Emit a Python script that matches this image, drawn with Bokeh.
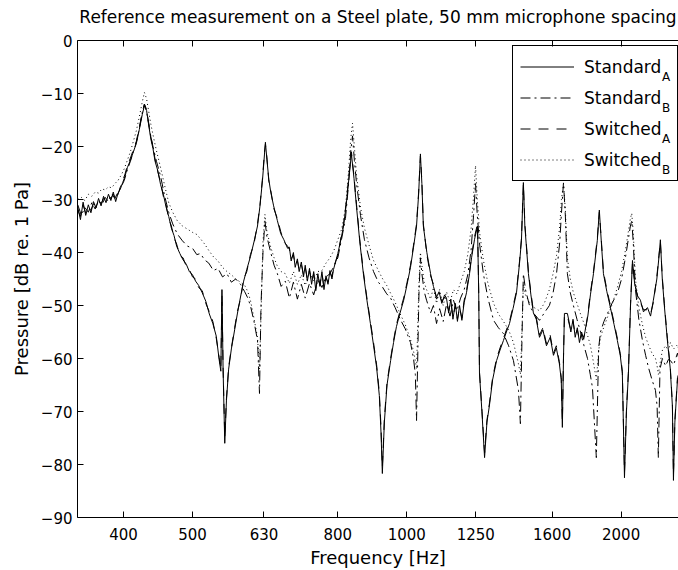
from bokeh.plotting import figure
from bokeh.models import Range1d, FixedTicker, LogAxis, Legend, LegendItem, Label
from bokeh.embed import file_html
from bokeh.resources import INLINE

TITLE = "Reference measurement on a Steel plate, 50 mm microphone spacing"
X_LABEL = "Frequency [Hz]"
Y_LABEL = "Pressure [dB re. 1 Pa]"
series_names = ["Standard", "Standard", "Switched", "Switched"]
series_subs = ["A", "B", "A", "B"]

x_ticks = [400, 500, 630, 800, 1000, 1250, 1600, 2000]
y_ticks = [0, -10, -20, -30, -40, -50, -60, -70, -80, -90]

# ---- A pair (Standard_A solid, Switched_A dashed) ----
freq_A = [
    345, 348, 351, 354, 357, 360, 363, 366, 369, 372,
    375, 378, 381, 384, 387, 390, 393, 396, 399, 402,
    405, 409, 413, 417, 421, 425, 428, 431, 434, 437,
    440, 443, 447, 451, 455, 459, 463, 467, 471, 475,
    480, 485, 490, 495, 500, 505, 510, 516, 522, 528,
    534, 540, 545, 548, 550, 552, 555, 558, 562, 567,
    573, 578, 584, 590, 596, 603, 610, 617, 622, 627,
    631, 633, 636, 640, 644, 650, 658, 665, 672, 680,
    684, 688, 693, 697, 702, 706, 711, 716, 720, 725, 730,
    735, 740, 745, 750, 755, 760, 765, 770, 775, 780, 785,
    789, 800, 808, 815, 822, 829, 836, 843, 850, 859,
    869, 879, 889, 898, 907, 915, 920, 924, 930, 938,
    949, 958, 967, 978, 990, 1001, 1012, 1022, 1032, 1039,
    1045, 1050, 1055, 1067, 1080, 1090, 1101, 1110, 1120, 1130,
    1137, 1145, 1153, 1161, 1170, 1178, 1186, 1195, 1204, 1213,
    1225, 1233, 1245, 1257, 1262, 1265, 1275, 1286, 1296, 1306,
    1320, 1337, 1352, 1367, 1380, 1394, 1410, 1426, 1440, 1449,
    1458, 1465, 1482, 1494, 1506, 1520, 1536, 1553, 1571, 1590,
    1607, 1622, 1638, 1648, 1654, 1660, 1665, 1681, 1690, 1700,
    1712, 1724, 1736, 1748, 1760, 1772, 1784, 1796, 1811, 1829,
    1852, 1864, 1876, 1889, 1910, 1932, 1955, 1976, 1995, 2008,
    2022, 2035, 2048, 2062, 2075, 2090, 2110, 2129, 2150, 2178,
    2200, 2220, 2245, 2260, 2271, 2285, 2300, 2323, 2345, 2361,
    2369, 2380, 2400, 2420,
]
standard_A = [
    -31.5, -33.8, -30.5, -33.0, -31.0, -32.5, -30.4, -31.6, -29.8, -31.2,
    -29.4, -30.6, -29.0, -30.2, -28.6, -30.4, -28.8, -28.0, -26.8, -25.6,
    -24.0, -22.6, -21.0, -19.4, -16.8, -14.0, -12.3, -13.2, -16.0, -18.6,
    -20.4, -22.8, -24.6, -27.2, -29.0, -31.4, -33.2, -35.4, -36.8, -38.8,
    -40.2, -41.4, -42.2, -43.6, -44.2, -45.4, -46.2, -47.6, -49.2, -51.6,
    -53.4, -55.8, -60.2, -62.4, -47.0, -62.0, -76.0, -68.0, -62.0, -58.2,
    -54.6, -51.6, -48.4, -45.4, -43.2, -40.8, -38.0, -35.0, -31.2, -26.4,
    -21.6, -19.2, -22.4, -26.2, -28.6, -31.2, -34.0, -36.4, -37.6, -39.2,
    -39.0, -41.6, -40.0, -42.8, -41.2, -43.6, -41.8, -44.6, -42.4, -45.4, -43.0,
    -46.0, -43.6, -47.2, -44.0, -46.4, -43.6, -47.0, -44.4, -46.0, -43.4, -45.0,
    -43.2, -40.2, -37.6, -35.0, -31.0, -26.2, -21.4, -26.0, -31.5, -38.0,
    -44.0, -49.0, -53.4, -57.5, -61.7, -67.0, -74.0, -81.7, -72.0, -65.0,
    -60.4, -57.0, -54.0, -51.5, -49.0, -46.0, -42.8, -39.0, -35.0, -29.0,
    -21.4, -27.0, -35.0, -40.0, -44.0, -46.4, -48.4, -47.4, -49.6, -48.0,
    -48.6, -51.4, -48.8, -52.6, -49.6, -53.0, -50.0, -52.8, -49.4, -47.6,
    -44.0, -41.0, -37.5, -35.0, -48.0, -62.8, -70.0, -78.7, -72.0, -69.0,
    -64.0, -60.4, -58.4, -56.6, -55.0, -53.4, -50.6, -47.6, -42.0, -37.7,
    -26.8, -35.0, -44.0, -48.0, -51.4, -52.6, -56.0, -54.6, -57.6, -56.0,
    -59.4, -58.0, -61.0, -64.0, -73.0, -60.0, -51.5, -51.5, -53.0, -55.0,
    -52.6, -56.0, -54.2, -57.0, -55.0, -56.4, -54.0, -52.0, -48.0, -44.0,
    -37.7, -32.0, -38.0, -44.0, -47.4, -50.4, -53.6, -56.6, -59.5, -62.8,
    -82.5, -70.0, -62.8, -50.0, -41.5, -46.0, -48.2, -49.0, -51.2, -50.4,
    -52.0, -49.0, -45.0, -41.0, -37.6, -45.0, -50.0, -56.6, -62.0, -69.0,
    -83.0, -72.0, -64.0, -62.6,
]
switched_A = [
    -32.0, -33.2, -31.0, -32.6, -31.6, -32.0, -30.8, -31.2, -30.2, -30.8,
    -29.8, -30.2, -29.4, -29.8, -29.0, -30.0, -29.0, -27.6, -26.4, -25.2,
    -23.6, -22.2, -20.6, -19.0, -16.4, -13.6, -12.0, -13.0, -15.6, -18.2,
    -20.0, -22.4, -24.8, -26.8, -29.4, -31.0, -33.6, -35.0, -37.2, -38.4,
    -40.6, -41.0, -42.6, -43.2, -44.6, -45.0, -46.6, -47.2, -49.6, -51.2,
    -53.0, -56.2, -59.8, -62.0, -48.0, -61.6, -75.0, -67.6, -61.6, -58.0,
    -54.2, -51.2, -48.8, -45.0, -43.6, -40.4, -38.4, -34.6, -31.0, -26.0,
    -21.2, -19.6, -22.0, -26.6, -28.2, -31.6, -33.6, -36.0, -38.0, -38.8,
    -39.4, -41.2, -40.4, -42.4, -41.6, -43.2, -42.2, -44.2, -42.8, -45.0, -43.4,
    -45.6, -44.0, -46.8, -44.4, -46.0, -44.0, -46.6, -44.8, -45.6, -43.8, -44.6,
    -42.8, -40.6, -37.2, -34.6, -30.6, -25.8, -21.0, -25.6, -31.0, -37.6,
    -43.6, -48.6, -53.0, -57.0, -61.2, -66.4, -73.0, -80.5, -71.4, -64.6,
    -60.0, -56.6, -53.6, -51.1, -48.6, -45.6, -42.4, -38.6, -34.6, -28.6,
    -21.8, -26.6, -34.6, -40.4, -44.4, -46.0, -48.8, -47.8, -49.2, -48.4,
    -49.0, -51.0, -49.2, -52.2, -50.0, -52.6, -50.4, -52.4, -49.0, -47.2,
    -43.6, -40.6, -37.0, -34.6, -47.6, -62.4, -69.6, -77.8, -71.6, -68.6,
    -63.6, -60.0, -58.0, -56.2, -54.6, -53.0, -50.2, -47.2, -41.6, -37.3,
    -27.0, -34.6, -43.6, -47.6, -51.0, -52.2, -55.6, -54.2, -57.2, -55.6,
    -59.0, -57.6, -60.6, -63.6, -72.0, -59.6, -51.9, -51.9, -53.4, -54.6,
    -53.0, -55.6, -54.6, -56.6, -55.4, -56.0, -54.4, -51.6, -47.6, -43.6,
    -37.3, -32.4, -37.6, -43.6, -47.0, -50.0, -53.2, -56.2, -59.1, -62.4,
    -81.5, -69.6, -62.4, -49.6, -41.9, -45.6, -48.6, -49.4, -50.8, -50.8,
    -51.6, -49.4, -44.6, -40.6, -38.0, -44.6, -49.6, -56.2, -61.6, -68.6,
    -82.0, -71.6, -63.6, -62.2,
]

# ---- B pair (Standard_B dash-dot, Switched_B dotted) ----
freq_B = [
    345, 349, 353, 357, 361, 365, 369, 373, 377, 381,
    385, 389, 393, 397, 401, 405, 409, 413, 417, 421,
    425, 428, 431, 434, 437, 441, 445, 451, 457, 463,
    469, 476, 484, 492, 500, 507, 513, 520, 527, 535,
    543, 551, 559, 567, 575, 584, 592, 598, 603, 610,
    617, 621, 624, 628, 632, 636, 644, 651, 658, 666,
    675, 684, 693, 702, 711, 720, 730, 740, 750, 760,
    770, 780, 790, 800, 810, 820, 828, 834, 839, 844,
    850, 861, 872, 885, 898, 912, 925, 937, 949, 963,
    979, 995, 1012, 1022, 1028, 1032, 1040, 1045, 1050, 1058,
    1066, 1080, 1090, 1101, 1112, 1125, 1137, 1150, 1163, 1176,
    1190, 1204, 1218, 1231, 1241, 1249, 1256, 1266, 1281, 1300,
    1324, 1345, 1367, 1390, 1412, 1435, 1444, 1452, 1458, 1468,
    1487, 1510, 1536, 1560, 1586, 1605, 1623, 1640, 1649, 1660,
    1670, 1681, 1697, 1714, 1734, 1754, 1774, 1794, 1810, 1823,
    1846, 1860, 1871, 1892, 1914, 1945, 1976, 2003, 2028, 2050,
    2061, 2070, 2080, 2095, 2118, 2143, 2165, 2185, 2210, 2235,
    2247, 2256, 2268, 2286, 2310, 2330, 2346, 2370, 2400, 2420,
]
standard_B = [
    -31.0, -33.0, -31.5, -32.4, -30.6, -31.8, -30.2, -31.0, -29.6, -30.4,
    -29.0, -29.8, -28.6, -27.6, -26.4, -24.4, -22.8, -21.0, -19.2, -16.6,
    -13.6, -12.0, -13.4, -15.8, -18.2, -20.6, -22.8, -25.6, -29.4, -32.4,
    -34.6, -36.5, -37.8, -38.8, -39.2, -40.4, -40.2, -41.4, -42.0, -43.4,
    -43.0, -44.6, -44.0, -45.6, -45.0, -46.0, -47.4, -48.6, -50.0, -53.0,
    -56.6, -66.6, -50.0, -40.0, -34.0, -37.0, -40.0, -42.4, -44.0, -46.4,
    -45.4, -48.6, -45.6, -48.8, -46.0, -48.6, -45.8, -48.0, -45.2, -46.6,
    -44.6, -44.0, -42.6, -41.0, -37.4, -33.6, -27.4, -21.0, -18.0, -22.6,
    -27.0, -33.0, -37.6, -41.0, -43.6, -45.6, -46.6, -47.8, -48.6, -50.4,
    -52.6, -54.4, -57.0, -60.0, -63.0, -71.7, -48.0, -41.0, -44.0, -47.4,
    -49.0, -51.4, -50.0, -53.4, -50.6, -53.0, -49.8, -52.0, -49.0, -51.0,
    -48.6, -47.0, -44.2, -39.6, -33.0, -27.0, -33.0, -38.6, -44.0, -48.6,
    -52.8, -54.2, -55.3, -57.6, -60.4, -66.0, -72.3, -55.0, -44.0, -47.0,
    -50.0, -51.6, -52.8, -51.4, -50.0, -47.6, -44.0, -38.0, -32.6, -26.8,
    -33.0, -44.0, -47.6, -50.0, -52.6, -55.0, -57.6, -60.0, -63.0, -65.5,
    -78.7, -58.0, -55.0, -53.0, -51.5, -49.4, -47.7, -45.0, -41.0, -37.0,
    -35.0, -34.0, -38.0, -47.0, -52.6, -56.6, -59.4, -61.7, -64.0, -66.0,
    -69.0, -78.7, -62.0, -60.0, -61.4, -60.2, -60.4, -61.2, -59.0, -61.0,
]
switched_B = [
    -30.0, -29.6, -30.2, -29.0, -29.4, -28.6, -28.8, -28.0, -28.2, -27.6,
    -27.8, -27.0, -26.4, -25.4, -24.2, -22.6, -21.0, -19.0, -17.0, -14.4,
    -11.6, -9.8, -11.0, -13.4, -15.8, -18.4, -20.8, -24.0, -27.4, -30.6,
    -32.4, -34.0, -35.0, -35.6, -36.2, -36.6, -37.4, -38.4, -39.6, -40.8,
    -41.6, -42.8, -43.6, -44.2, -45.0, -45.6, -46.2, -47.4, -49.0, -52.4,
    -56.0, -62.0, -52.0, -38.0, -32.8, -36.0, -39.0, -41.0, -42.6, -43.6,
    -44.0, -45.8, -43.6, -46.0, -44.2, -46.2, -43.8, -45.4, -43.6, -43.4,
    -42.0, -41.0, -39.6, -37.6, -35.6, -31.6, -25.0, -18.6, -15.6, -20.0,
    -25.4, -31.5, -35.4, -38.6, -41.5, -43.4, -45.0, -46.2, -47.7, -49.4,
    -51.6, -53.6, -56.4, -58.6, -60.4, -62.0, -46.0, -40.0, -42.4, -45.6,
    -47.0, -48.8, -46.6, -49.6, -47.0, -50.0, -47.4, -49.4, -47.0, -47.8,
    -45.6, -43.6, -40.4, -35.6, -29.4, -23.6, -30.0, -36.4, -41.4, -45.8,
    -49.6, -51.6, -53.0, -54.6, -57.0, -61.0, -63.0, -54.0, -46.0, -48.0,
    -49.4, -50.4, -51.0, -49.6, -47.0, -44.0, -40.6, -35.0, -30.0, -27.0,
    -32.0, -41.0, -45.0, -47.6, -49.6, -51.6, -53.4, -55.6, -57.4, -59.6,
    -64.0, -58.6, -56.0, -54.0, -52.2, -49.6, -46.6, -43.6, -39.6, -35.6,
    -33.6, -32.6, -36.0, -45.0, -50.4, -53.6, -56.0, -57.4, -59.0, -60.0,
    -61.4, -63.0, -61.0, -58.4, -57.6, -58.6, -57.0, -58.2, -57.4, -59.0,
]

assert len(freq_A) == len(standard_A) == len(switched_A)
assert len(freq_B) == len(standard_B) == len(switched_B)

FONT = "DejaVu Sans"

p = figure(width=678, height=570, x_axis_type="log",
           x_range=Range1d(344.7, 2408), y_range=Range1d(-90, 0),
           output_backend="svg", toolbar_location=None,
           min_border_left=77, min_border_right=0,
           min_border_top=40, min_border_bottom=53)

p.xgrid.visible = False
p.ygrid.visible = False
p.outline_line_color = None
p.background_fill_color = "white"
p.border_fill_color = "white"

xa = p.xaxis[0]
xa.ticker = FixedTicker(ticks=x_ticks, minor_ticks=[])
xa.major_label_overrides = {t: str(t) for t in x_ticks}
ya = p.yaxis[0]
ya.ticker = FixedTicker(ticks=y_ticks, minor_ticks=[])
ya.major_label_overrides = {t: (str(t).replace("-", "\u2212")) for t in y_ticks}

# top axis: inward ticks, no tick labels, carries the chart title as its label
top = LogAxis(ticker=FixedTicker(ticks=x_ticks, minor_ticks=[]),
              major_label_overrides={t: "" for t in x_ticks},
              major_label_text_font_size="0px", major_label_standoff=0)
p.add_layout(top, "above")

for ax in (xa, ya, top):
    ax.major_tick_in = 6
    ax.major_tick_out = 0
    ax.minor_tick_in = 0
    ax.minor_tick_out = 0
    ax.axis_line_color = "black"
    ax.major_tick_line_color = "black"
    ax.major_label_text_font = FONT
    ax.major_label_text_color = "black"
    ax.axis_label_text_font = FONT
    ax.axis_label_text_font_style = "normal"
    ax.axis_label_text_color = "black"

xa.major_label_text_font_size = "15px"
ya.major_label_text_font_size = "15px"

xa.axis_label = X_LABEL
xa.axis_label_text_font_size = "18px"
xa.major_label_standoff = 10
xa.axis_label_standoff = 4
ya.axis_label = Y_LABEL
ya.axis_label_text_font_size = "18px"
ya.major_label_standoff = 5
ya.axis_label_standoff = 6
top.axis_label = TITLE
top.axis_label_text_font_size = "17px"
top.axis_label_standoff = 14

r1 = p.line(freq_A, standard_A, line_color="black", line_width=1)
r2 = p.line(freq_B, standard_B, line_color="black", line_width=1, line_dash="10 4 2 4")
r3 = p.line(freq_A, switched_A, line_color="black", line_width=1, line_dash="10 8")
r4 = p.line(freq_B, switched_B, line_color="black", line_width=1, line_dash="1 3")

legend = Legend(
    items=[LegendItem(label=n, renderers=[r]) for n, r in zip(series_names, [r1, r2, r3, r4])],
    location=(435, 336),
    label_text_font=FONT, label_text_font_size="17px", label_text_color="black",
    glyph_width=54, glyph_height=27, label_height=27, label_width=86,
    label_standoff=10, padding=7, spacing=4,
    border_line_color="black", border_line_width=1, border_line_alpha=1,
    background_fill_alpha=0,
)
p.add_layout(legend)

for i, s in enumerate(series_subs):
    p.add_layout(Label(x=584.5, y=440.5 - 31 * i, x_units="screen", y_units="screen",
                       text=s, text_font=FONT, text_font_size="12px",
                       text_color="black", text_baseline="alphabetic",
                       level="overlay"))

open("out.html", "w").write(file_html(p, INLINE))
